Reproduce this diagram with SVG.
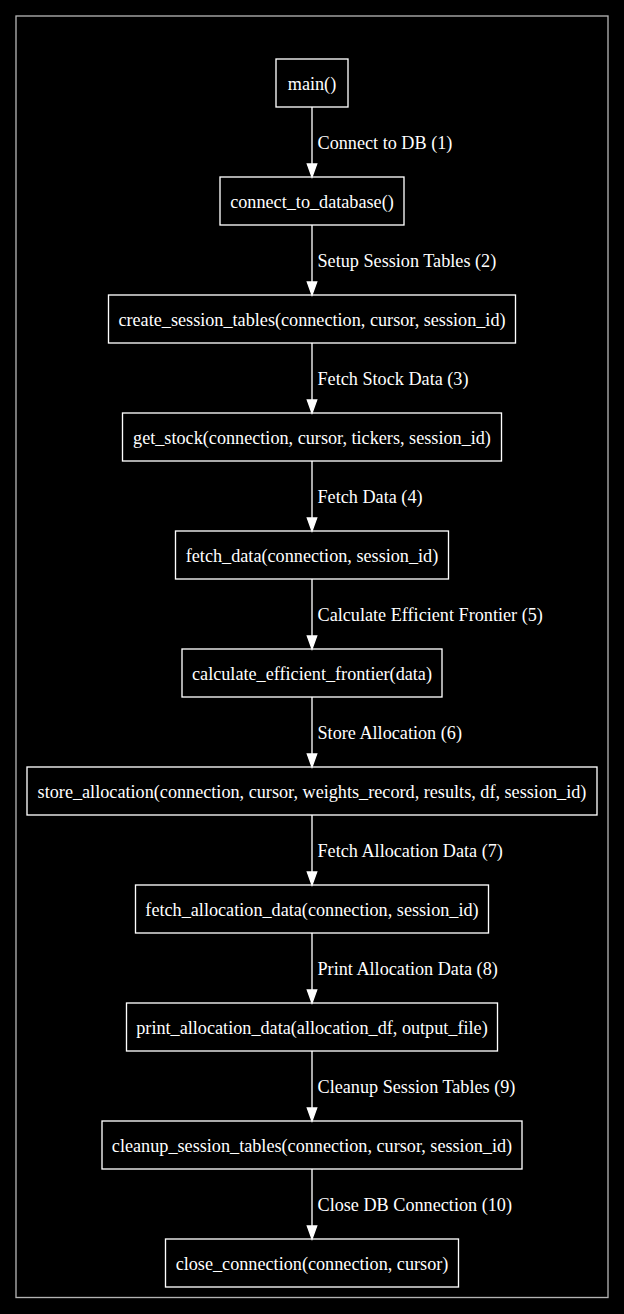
<svg xmlns="http://www.w3.org/2000/svg" width="624" height="1314" viewBox="0 0 624 1314">
<style>
.node rect{fill:#000;stroke:#ffffff;stroke-width:1.33}
.node text{font-family:"Liberation Serif","Times New Roman",serif;font-size:18.2px;fill:#ffffff;text-anchor:middle}
.edge line{stroke:#ffffff;stroke-width:1.33}
.edge polygon{fill:#ffffff;stroke:#ffffff;stroke-width:1.33}
.edge text{font-family:"Liberation Serif","Times New Roman",serif;font-size:18.2px;fill:#ffffff}
</style>
<rect x="0" y="0" width="624" height="1314" fill="#000000"/>
<rect x="16" y="16" width="592" height="1281.5" fill="none" stroke="#b3b3b3" stroke-width="1.33"/>
<g id="nodes">
<g id="n0" class="node"><rect x="276" y="59" width="72" height="48"/><text x="312" y="89.5">main()</text></g>
<g id="n1" class="node"><rect x="220" y="177" width="184" height="48"/><text x="312" y="207.5">connect_to_database()</text></g>
<g id="n2" class="node"><rect x="108.5" y="295" width="407" height="48"/><text x="312" y="325.5">create_session_tables(connection, cursor, session_id)</text></g>
<g id="n3" class="node"><rect x="122.5" y="413" width="379" height="48"/><text x="312" y="443.5">get_stock(connection, cursor, tickers, session_id)</text></g>
<g id="n4" class="node"><rect x="175.5" y="531" width="273" height="48"/><text x="312" y="561.5">fetch_data(connection, session_id)</text></g>
<g id="n5" class="node"><rect x="182" y="649" width="260" height="48"/><text x="312" y="679.5">calculate_efficient_frontier(data)</text></g>
<g id="n6" class="node"><rect x="27" y="767" width="570" height="48"/><text x="312" y="797.5">store_allocation(connection, cursor, weights_record, results, df, session_id)</text></g>
<g id="n7" class="node"><rect x="135.5" y="885" width="353" height="48"/><text x="312" y="915.5">fetch_allocation_data(connection, session_id)</text></g>
<g id="n8" class="node"><rect x="126.5" y="1003" width="371" height="48"/><text x="312" y="1033.5">print_allocation_data(allocation_df, output_file)</text></g>
<g id="n9" class="node"><rect x="102" y="1121" width="420" height="48"/><text x="312" y="1151.5">cleanup_session_tables(connection, cursor, session_id)</text></g>
<g id="n10" class="node"><rect x="165.5" y="1239" width="293" height="48"/><text x="312" y="1269.5">close_connection(connection, cursor)</text></g>
</g>
<g id="edges">
<g class="edge"><line x1="312" y1="107" x2="312" y2="164"/><polygon points="307.3,164 316.7,164 312,177"/><text x="317.5" y="148.5">Connect to DB (1)</text></g>
<g class="edge"><line x1="312" y1="225" x2="312" y2="282"/><polygon points="307.3,282 316.7,282 312,295"/><text x="317.5" y="266.5">Setup Session Tables (2)</text></g>
<g class="edge"><line x1="312" y1="343" x2="312" y2="400"/><polygon points="307.3,400 316.7,400 312,413"/><text x="317.5" y="384.5">Fetch Stock Data (3)</text></g>
<g class="edge"><line x1="312" y1="461" x2="312" y2="518"/><polygon points="307.3,518 316.7,518 312,531"/><text x="317.5" y="502.5">Fetch Data (4)</text></g>
<g class="edge"><line x1="312" y1="579" x2="312" y2="636"/><polygon points="307.3,636 316.7,636 312,649"/><text x="317.5" y="620.5">Calculate Efficient Frontier (5)</text></g>
<g class="edge"><line x1="312" y1="697" x2="312" y2="754"/><polygon points="307.3,754 316.7,754 312,767"/><text x="317.5" y="738.5">Store Allocation (6)</text></g>
<g class="edge"><line x1="312" y1="815" x2="312" y2="872"/><polygon points="307.3,872 316.7,872 312,885"/><text x="317.5" y="856.5">Fetch Allocation Data (7)</text></g>
<g class="edge"><line x1="312" y1="933" x2="312" y2="990"/><polygon points="307.3,990 316.7,990 312,1003"/><text x="317.5" y="974.5">Print Allocation Data (8)</text></g>
<g class="edge"><line x1="312" y1="1051" x2="312" y2="1108"/><polygon points="307.3,1108 316.7,1108 312,1121"/><text x="317.5" y="1092.5">Cleanup Session Tables (9)</text></g>
<g class="edge"><line x1="312" y1="1169" x2="312" y2="1226"/><polygon points="307.3,1226 316.7,1226 312,1239"/><text x="317.5" y="1210.5">Close DB Connection (10)</text></g>
</g>
</svg>
